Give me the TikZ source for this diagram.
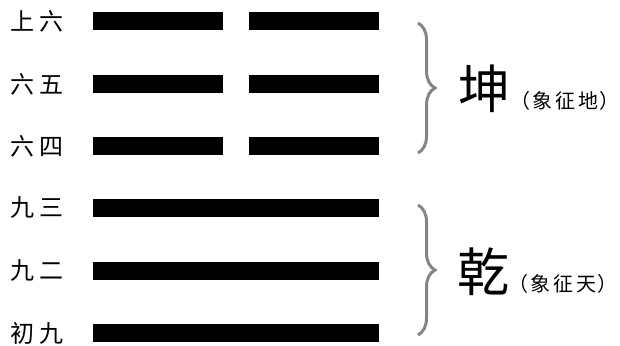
\documentclass[tikz,border=0pt]{standalone}
\usepackage{fontspec}
\newfontfamily\cjk{Noto Sans CJK SC}
\usetikzlibrary{decorations.pathreplacing}

\tikzset{
  yaobar/.style={fill=black},
  yaoname/.style={font=\cjk\fontsize{24}{24}\selectfont, inner sep=0pt},
  guaname/.style={font=\cjk\fontsize{52}{52}\selectfont, inner sep=0pt},
  guanote/.style={font=\cjk\fontsize{20}{20}\selectfont, inner sep=0pt},
  guabrace/.style={draw=black!48, line width=3pt,
    decorate, decoration={brace, amplitude=17pt}}
}

\begin{document}
\begin{tikzpicture}[x=1pt, y=1pt]
  % Canvas with the proportions of the image
  \useasboundingbox (0,0) rectangle (620,345);

  % Upper trigram: three broken lines
  \fill[yaobar] (93,315) rectangle (223,333);
  \fill[yaobar] (249,315) rectangle (379,333);
  \fill[yaobar] (93,252) rectangle (223,270);
  \fill[yaobar] (249,252) rectangle (379,270);
  \fill[yaobar] (93,190) rectangle (223,208);
  \fill[yaobar] (249,190) rectangle (379,208);

  % Lower trigram: three solid lines
  \fill[yaobar] (93,128) rectangle (379,146);
  \fill[yaobar] (93,65) rectangle (379,83);
  \fill[yaobar] (93,3) rectangle (379,21);

  % Names of the six lines
  \node[yaoname] (top) at (37,324) {上\hspace{5pt}六};
  \node[yaoname] (fifth) at (37,261) {六\hspace{5pt}五};
  \node[yaoname] (fourth) at (37,199) {六\hspace{5pt}四};
  \node[yaoname] (third) at (37,137) {九\hspace{5pt}三};
  \node[yaoname] (second) at (37,74) {九\hspace{5pt}二};
  \node[yaoname] (first) at (37,12) {初\hspace{5pt}九};

  % Braces grouping each trigram
  \coordinate (kunA) at (418,322);
  \coordinate (kunB) at (418,192);
  \coordinate (qianA) at (418,140);
  \coordinate (qianB) at (418,10);
  \draw[guabrace] (kunA) -- (kunB);
  \draw[guabrace] (qianA) -- (qianB);

  % Trigram names with their meaning
  \node[guaname] (kun) at (484,256) {坤};
  \node[guanote, anchor=base west] (kunnote) at ([xshift=0pt]kun.base east)
    {（\hspace{2pt}象\hspace{3pt}征\hspace{3pt}地\hspace{1pt}）};
  \node[guaname] (qian) at (483,73) {乾};
  \node[guanote, anchor=base west] (qiannote) at ([xshift=-1pt]qian.base east)
    {（\hspace{2pt}象\hspace{3pt}征\hspace{3pt}天\hspace{1pt}）};

\end{tikzpicture}
\end{document}
